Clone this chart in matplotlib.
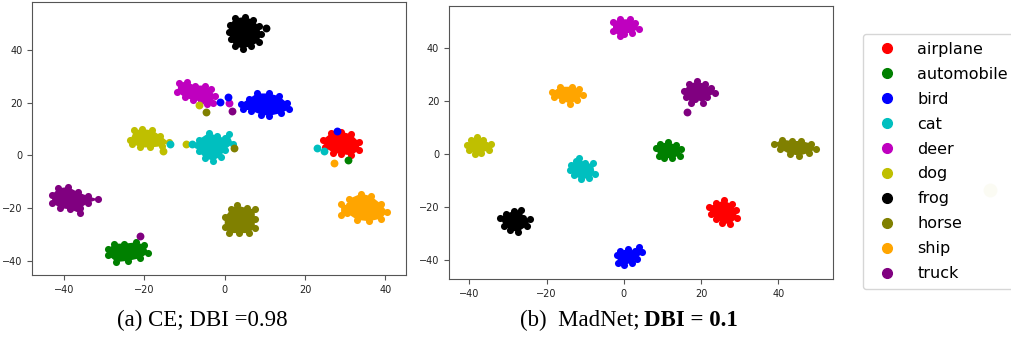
import matplotlib.pyplot as plt
from matplotlib.lines import Line2D

classes = ["airplane", "automobile", "bird", "cat", "deer", "dog", "frog", "horse", "ship", "truck"]
colors = ["red", "green", "blue", "c", "m", "y", "black", "olive", "orange", "purple"]

# cluster outlines (points along the rim of each blob)
# (a) CE
ce_airplane = [(24.5, 6), (26.5, 8.5), (29, 9), (31.5, 8), (33.5, 5), (33.5, 2), (31.5, 0), (29, 0.5), (27, 1), (25, 3)]
ce_automobile = [(-29, -35.5), (-27.5, -33.5), (-25, -33.5), (-22, -33), (-20, -34), (-19, -37), (-21, -39),
                 (-24, -40), (-27, -40.5), (-29, -38)]
ce_bird = [(4, 19.5), (6, 21.5), (8, 23.5), (11, 23.5), (13.5, 22.5), (15.5, 20), (16, 17.5), (14, 16),
           (11, 15), (9, 15.5), (6.5, 17), (4.5, 17.5)]
ce_cat = [(-6.5, 6), (-4, 8.5), (-2, 7.5), (0, 6.5), (1, 8.3), (2, 4.5), (0, 2), (-1, -0.5), (-3, -2),
          (-5, -1), (-6.5, 1.5), (-7, 4)]
ce_deer = [(-11.5, 27.5), (-9.5, 28), (-7.5, 26.5), (-5, 26.5), (-3.5, 25), (-2.5, 22.5), (-3, 20),
           (-4.5, 19.5), (-6, 20.5), (-8, 21), (-10, 22), (-11.8, 24)]
ce_dog = [(-23.5, 6), (-22.5, 9.5), (-20.5, 10), (-18, 9.5), (-16, 7.5), (-14, 5), (-15.5, 3.5),
          (-18.5, 3), (-21, 3), (-23, 4.5)]
ce_frog = [(2.5, 52), (5, 52.5), (7, 51.5), (8.5, 49), (9, 46), (8.5, 43), (6.5, 41.5), (4.5, 40.5),
           (2.5, 41.5), (1.5, 44), (1, 47), (1.2, 49.5)]
ce_horse = [(0, -23.5), (1.5, -20.5), (3, -19), (5.5, -20), (7.5, -20.5), (7.5, -24), (7.5, -27.5),
            (6, -29.5), (3.5, -29.5), (1, -29.5), (0, -27)]
ce_ship = [(31, -16.5), (34, -14.5), (36.5, -15.5), (39, -18.5), (40.5, -21.5), (39, -24), (36, -25),
           (33, -24.5), (30.5, -22), (29, -22.7), (29, -18.5), (31, -19)]
ce_truck = [(-43, -15), (-41.5, -12.5), (-39, -12), (-36.5, -14), (-34, -15.5), (-31.5, -16.7), (-34, -18),
            (-36, -20), (-36, -22), (-38.5, -20.5), (-41, -20), (-43, -18)]
# stray points of the CE plot: (class index, x, y)
ce_strays = [(6, 10.2, 48.2), (4, 1, 20), (2, -1.2, 20.4), (2, 0.9, 22), (2, 28, 9.4), (9, 1.9, 17),
             (9, -21.1, -30.6), (7, -4.7, 16.3), (5, -6.4, 19.1), (5, -15.3, 1.6), (5, -9.7, 4.2),
             (3, -13.6, 4.3), (3, -8.2, 4.2), (7, 2.2, 2.7), (3, 23, 2.7), (3, 24.8, 1.8),
             (8, 27.3, -2.8), (1, 30.7, -1.8)]

# (b) MadNet
mn_airplane = [(22, -20), (24, -18.5), (26, -17.5), (28, -19), (29, -21), (29.3, -24), (27.5, -26.5),
               (25.5, -26), (24, -24.5), (22.5, -22.5)]
mn_automobile = [(8.3, 2.5), (9.5, 4), (11.5, 4.5), (13.5, 3.5), (14.7, 2), (14.5, -0.5), (12.5, -1.5),
                 (10.5, -1.5), (9, -0.5)]
mn_bird = [(-1.8, -38), (-1, -36.5), (1, -36), (3, -36.5), (4, -35), (4.8, -37), (3.5, -39.5), (2, -41),
           (0, -42), (-1.5, -41)]
mn_cat = [(-13.7, -4), (-12.5, -2.5), (-11.5, -1.5), (-10, -3.5), (-8, -3.5), (-7.5, -7.5), (-9, -9),
          (-11, -9.5), (-13, -8), (-14, -6)]
mn_deer = [(-2.8, 50), (-1, 51), (1.5, 51), (3, 49.5), (4, 47.5), (2, 46), (0, 45.5), (-1, 44.5), (-2.8, 46.5)]
mn_dog = [(-40.5, 3.5), (-39.5, 5.5), (-38, 6.5), (-36.5, 5.5), (-34.5, 4), (-35, 1.5), (-37, 0.5),
          (-38.5, 0), (-40, 1.5)]
mn_frog = [(-32, -24), (-30.5, -22.5), (-28.5, -21.5), (-26.5, -21), (-26, -24), (-24.2, -24.5), (-25, -27),
           (-27.5, -29.5), (-29.5, -28.5), (-31, -27)]
mn_horse = [(39, 4), (41, 5.5), (43.5, 5), (46, 5), (48.5, 4), (49.7, 2), (48, 0.5), (45.5, -0.5), (43, 0),
            (40.5, 2)]
mn_ship = [(-18.5, 23.5), (-16.5, 25.5), (-13.5, 25.5), (-11.5, 24.5), (-10.5, 22.5), (-12, 20.5),
           (-14, 19), (-16, 20.5), (-18, 21.5)]
mn_truck = [(15.5, 24), (17, 26.5), (19, 27.5), (21, 26.5), (22.5, 25), (23.5, 23), (21.5, 21.5),
            (20.5, 19.5), (18.5, 21), (17.5, 19.5), (16, 21.5)]
mn_strays = [(9, 16.3, 16.1)]

ce_clusters = [ce_airplane, ce_automobile, ce_bird, ce_cat, ce_deer, ce_dog, ce_frog, ce_horse, ce_ship, ce_truck]
mn_clusters = [mn_airplane, mn_automobile, mn_bird, mn_cat, mn_deer, mn_dog, mn_frog, mn_horse, mn_ship, mn_truck]

caption_a = "(a) CE; DBI =0.98"
caption_b = ["(b)  MadNet;", "DBI = 0.1"]

# stray faint dot right of the legend (pixel coords)
faint_x = [990]
faint_y = [190]

DOT = 26
W, H = 1011, 337


def draw_panel(ax, clusters, strays):
    for pts, c in zip(clusters, colors):
        xs = [p[0] for p in pts]
        ys = [p[1] for p in pts]
        ax.fill(xs, ys, color=c, lw=0)
        ax.scatter(xs, ys, s=DOT, color=c, lw=0)
    for k, x, y in strays:
        ax.scatter([x], [y], s=DOT + 6, color=colors[k], lw=0, zorder=3)
    for sp in ax.spines.values():
        sp.set_color('#555555')
        sp.set_linewidth(0.8)
    ax.tick_params(labelsize=7, length=3.5, width=0.8, color='#555555', labelcolor='#222222')
    ax.set_xticks([-40, -20, 0, 20, 40])
    ax.set_yticks([-40, -20, 0, 20, 40])


fig = plt.figure(figsize=(W / 100, H / 100), dpi=100)

bg = fig.add_axes([0, 0, 1, 1], zorder=-1)
bg.set_xlim(0, W)
bg.set_ylim(H, 0)
bg.axis('off')
bg.scatter(faint_x, faint_y, s=100, color='#eeeec8', lw=0)

ax1 = fig.add_axes([0.0317, 0.184, 0.370, 0.810])
draw_panel(ax1, ce_clusters, ce_strays)
ax1.set_xlim(-48, 45.2)
ax1.set_ylim(-45.4, 58.2)

ax2 = fig.add_axes([0.444, 0.172, 0.380, 0.810])
draw_panel(ax2, mn_clusters, mn_strays)
ax2.set_xlim(-45.3, 54.2)
ax2.set_ylim(-47.2, 56)

handles = [Line2D([], [], marker='o', ls='', color=c, markersize=7) for c in colors]
fig.legend(handles, classes, loc='upper left', bbox_to_anchor=(863 / W, 1 - 34 / H),
           borderaxespad=0, fontsize=11.5, labelspacing=0.62, handletextpad=0.9, borderpad=0.5,
           frameon=True, edgecolor='#cccccc')

cap_y = 1 - 320 / H
fig.text(202.5 / W, cap_y, caption_a, ha='center', va='center',
         fontsize=16.5, family='Liberation Serif')

# caption (b): regular part followed by a bold part, centred as a whole
tb1 = fig.text(0, cap_y, caption_b[0], ha='left', va='center', fontsize=16.5, family='Liberation Serif')
tb2 = fig.text(0, cap_y, caption_b[1], ha='left', va='center', fontsize=16.5, family='Liberation Serif',
               weight='bold')
fig.canvas.draw()
r = fig.canvas.get_renderer()
w1 = tb1.get_window_extent(r).width
w2 = tb2.get_window_extent(r).width
gap = 5
x0 = 629 - (w1 + gap + w2) / 2
tb1.set_x(x0 / W)
tb2.set_x((x0 + w1 + gap) / W)

fig.savefig('out.png', dpi=100)
